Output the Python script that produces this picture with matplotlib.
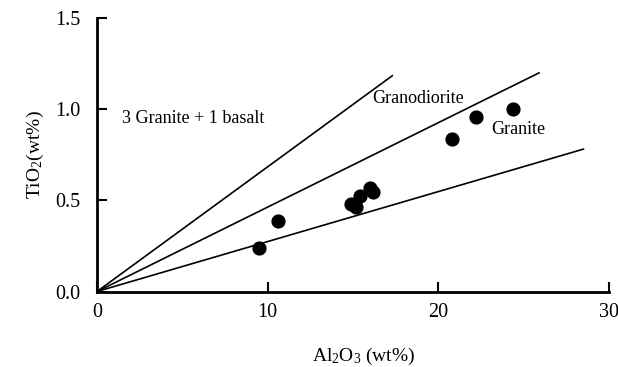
import numpy as np
import matplotlib
matplotlib.use("Agg")
import matplotlib.pyplot as plt

plt.rcParams['font.family'] = ['Liberation Serif', 'DejaVu Serif']
plt.rcParams['mathtext.fontset'] = 'custom'
plt.rcParams['mathtext.rm'] = 'Liberation Serif'
plt.rcParams['mathtext.it'] = 'Liberation Serif:italic'

# sample points, Al2O3 vs TiO2 (wt%)
al2o3 = [9.5, 10.6, 14.9, 15.2, 15.4, 16.0, 16.15, 20.8, 22.2, 24.4]
tio2 = [0.237, 0.388, 0.48, 0.462, 0.525, 0.566, 0.546, 0.838, 0.959, 1.003]

# mixing lines from the origin: end x, slope
line_end_x = [17.3, 25.9, 28.5]
line_slope = [0.0684, 0.0463, 0.0274]

labels = ["3 Granite + 1 basalt", "Granodiorite", "Granite"]
label_x = [1.45, 16.1, 23.1]
label_y = [0.95, 1.056, 0.886]

fig = plt.figure(figsize=(6.18, 3.67), dpi=100)
ax = fig.add_axes([0.157, 0.2057, 0.8285, 0.7453])

for xe, k in zip(line_end_x, line_slope):
    xs = np.array([0, xe])
    ax.plot(xs, k * xs, color='black', lw=1.2)

ax.scatter(al2o3, tio2, s=85, color='black', zorder=3)

for t, x, y in zip(labels, label_x, label_y):
    ax.text(x, y, t, fontsize=13, ha='left', va='center')

ax.set_xlim(0, 30)
ax.set_ylim(0, 1.5)
ax.set_xticks([0, 10, 20, 30])
ax.set_yticks([0.0, 0.5, 1.0, 1.5])
ax.set_yticklabels(['0.0', '0.5', '1.0', '1.5'])
ax.tick_params(direction='in', length=7, width=1.5, labelsize=14.5)
ax.tick_params(axis='x', pad=8)
ax.tick_params(axis='y', pad=12)
for s in ['top', 'right']:
    ax.spines[s].set_visible(False)
for s in ['left', 'bottom']:
    ax.spines[s].set_linewidth(2)

ax.set_xlabel('Al$_2$O$_3$ (wt%)', fontsize=14)
ax.set_ylabel('TiO$_2$(wt%)', fontsize=14)
ax.xaxis.set_label_coords(0.52, -0.2)
ax.yaxis.set_label_coords(-0.10, 0.5)

fig.savefig('out.png', dpi=100)
